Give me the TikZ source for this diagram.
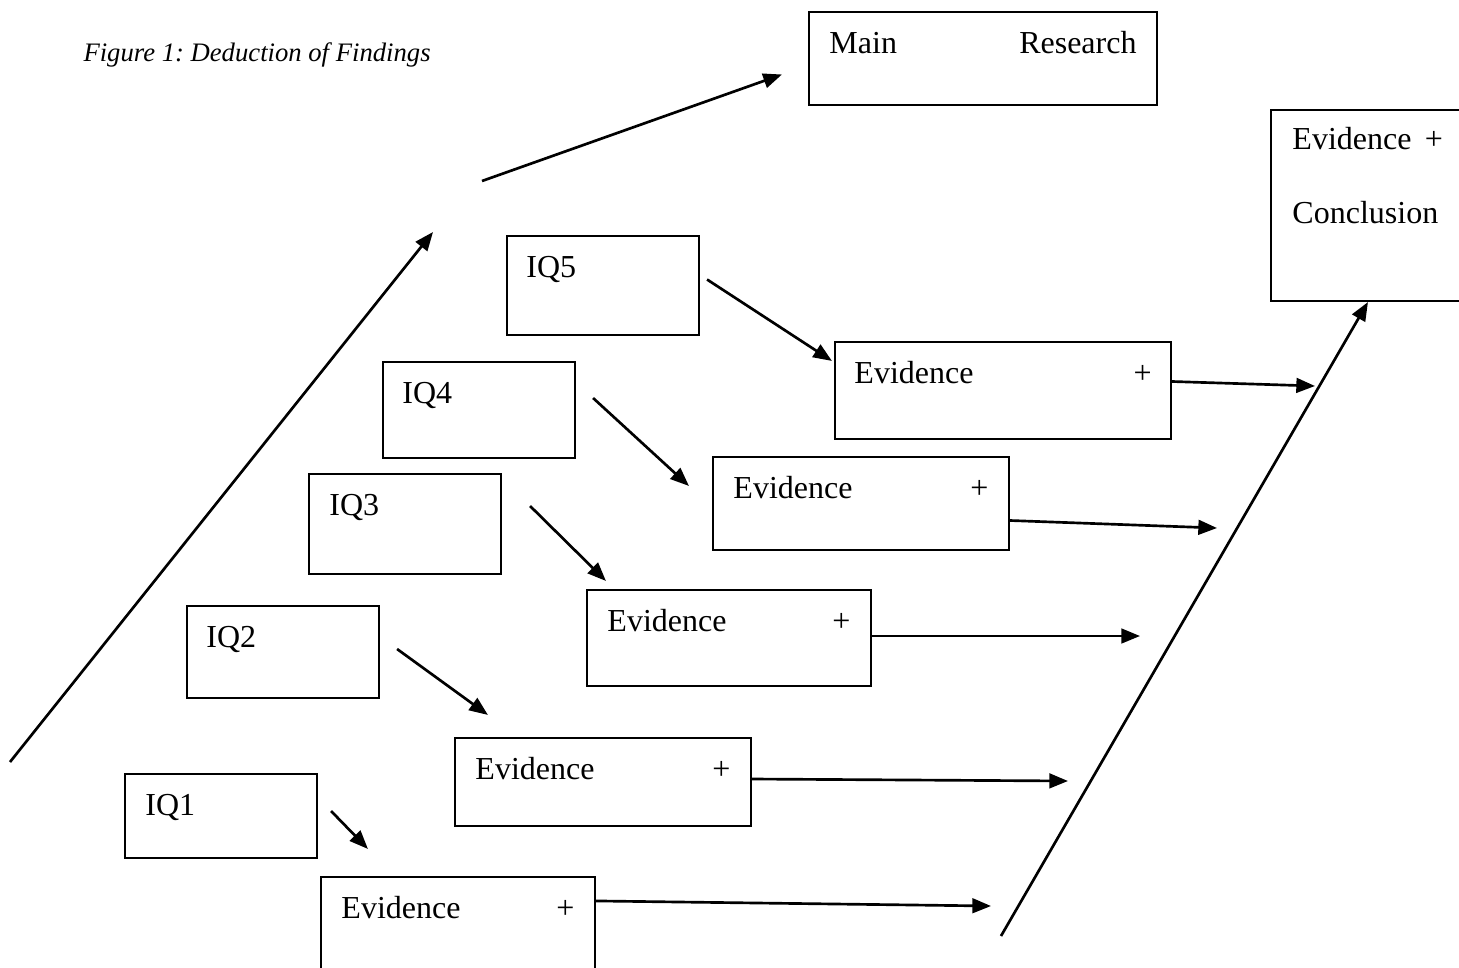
\documentclass[tikz,border=0pt]{standalone}
\usepackage{fontspec}
\setmainfont{Liberation Serif}
\usetikzlibrary{arrows.meta,calc,fit}
\frenchspacing

\begin{document}
\begin{tikzpicture}[
    x=0.375pt, y=-0.375pt,
    box/.style={rectangle, draw, line width=0.8pt, inner sep=0pt},
    txt/.style={inner sep=0pt, font=\fontsize{12}{14}\selectfont},
    arrow/.style={-{Triangle[length=7pt,width=5.5pt]}, line width=1pt}
]
\useasboundingbox (0,0) rectangle (1459,967);

\node[anchor=base west, inner sep=0pt, font=\fontsize{10}{12}\selectfont\itshape] (caption) at (83,61) {Figure 1: Deduction of Findings};

% boxes
\node[box, fit={(809,12) (1157,105)}] (main) {};
\node[box, fit={(1271,110) (1480,301)}] (concl) {};
\node[box, fit={(507,236) (699,335)}] (iq5) {};
\node[box, fit={(383,362) (575,458)}] (iq4) {};
\node[box, fit={(309,474) (501,574)}] (iq3) {};
\node[box, fit={(187,606) (379,698)}] (iq2) {};
\node[box, fit={(125,774) (317,858)}] (iq1) {};
\node[box, fit={(835,342) (1171,439)}] (ev5) {};
\node[box, fit={(713,457) (1009,550)}] (ev4) {};
\node[box, fit={(587,590) (871,686)}] (ev3) {};
\node[box, fit={(455,738) (751,826)}] (ev2) {};
\node[box, fit={(321,877) (595,995)}] (ev1) {};

% texts
\node[txt, anchor=base west] (mainl) at ($(main.north west)+(21,43)$) {Main};
\node[txt, anchor=base east] (mainr) at ($(main.north east)+(-21,43)$) {Research};
\node[txt, anchor=base west] (concl1) at ($(concl.north west)+(22,41)$) {Evidence\, +};
\node[txt, anchor=base west] (concl2) at ($(concl.north west)+(22,115)$) {Conclusion};
\node[txt, anchor=base west] (iq5t) at ($(iq5.north west)+(20,43)$) {IQ5};
\node[txt, anchor=base west] (iq4t) at ($(iq4.north west)+(20,43)$) {IQ4};
\node[txt, anchor=base west] (iq3t) at ($(iq3.north west)+(21,43)$) {IQ3};
\node[txt, anchor=base west] (iq2t) at ($(iq2.north west)+(20,43)$) {IQ2};
\node[txt, anchor=base west] (iq1t) at ($(iq1.north west)+(21,43)$) {IQ1};
\node[txt, anchor=base west] (ev5t) at ($(ev5.north west)+(20,43)$) {Evidence};
\node[txt, anchor=base east] (ev5p) at ($(ev5.north east)+(-20,43)$) {+};
\node[txt, anchor=base west] (ev4t) at ($(ev4.north west)+(21,43)$) {Evidence};
\node[txt, anchor=base east] (ev4p) at ($(ev4.north east)+(-21,43)$) {+};
\node[txt, anchor=base west] (ev3t) at ($(ev3.north west)+(21,43)$) {Evidence};
\node[txt, anchor=base east] (ev3p) at ($(ev3.north east)+(-21,43)$) {+};
\node[txt, anchor=base west] (ev2t) at ($(ev2.north west)+(21,43)$) {Evidence};
\node[txt, anchor=base east] (ev2p) at ($(ev2.north east)+(-21,43)$) {+};
\node[txt, anchor=base west] (ev1t) at ($(ev1.north west)+(21,43)$) {Evidence};
\node[txt, anchor=base east] (ev1p) at ($(ev1.north east)+(-21,43)$) {+};

% free ends
\coordinate (l0) at (10,762);
\coordinate (l1) at (433,232);
\coordinate (t0) at (482,181);
\coordinate (r0) at (1001,936);
\coordinate (e5) at (1315,386);
\coordinate (e4) at (1217,528);
\coordinate (e3) at (1140,636);
\coordinate (e2) at (1068,781);
\coordinate (e1) at (991,906);

% arrows
\draw[arrow] (l0) -- (l1);
\draw[arrow] (t0) -- ($(main.west)+(-26,16)$);
\draw[arrow] (r0) -- ($(concl.south west)+(98,0)$);
\draw[arrow] ($(iq5.east)+(7,-6)$) -- ($(ev5.north west)+(-2,20)$);
\draw[arrow] ($(iq4.east)+(17,-12)$) -- ($(ev4.north west)+(-23,30)$);
\draw[arrow] ($(iq3.east)+(28,-18)$) -- ($(ev3.north west)+(20,-8)$);
\draw[arrow] ($(iq2.east)+(17,-3)$) -- ($(ev2.north west)+(34,-22)$);
\draw[arrow] ($(iq1.east)+(13,-5)$) -- ($(ev1.north west)+(48,-27)$);
\draw[arrow] ($(ev5.east)+(0,-9)$) -- (e5);
\draw[arrow] ($(ev4.east)+(0,17)$) -- (e4);
\draw[arrow] ($(ev3.east)+(0,-2)$) -- (e3);
\draw[arrow] ($(ev2.east)+(0,-3)$) -- (e2);
\draw[arrow] ($(ev1.north east)+(0,25)$) -- (e1);

\end{tikzpicture}
\end{document}
